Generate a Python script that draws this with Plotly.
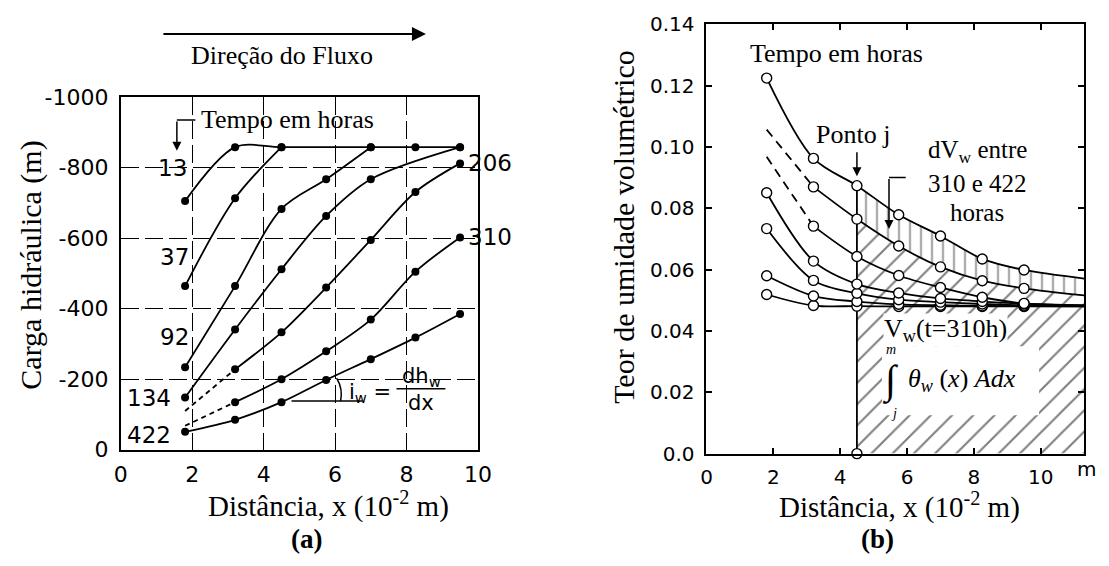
import plotly.graph_objects as go

SERIF = "Liberation Serif, Times New Roman, serif"
SANS = "DejaVu Sans, Arial, sans-serif"

# Measuring points along the sample (10^-2 m)
x_pts = [1.8, 3.2, 4.5, 5.75, 7.0, 8.25, 9.5]
times = ["13", "37", "92", "134", "206", "310", "422"]
# curves whose first value is a dashed (extrapolated) start, without a reading
dashed_start = ["206", "310"]

# (a) Hydraulic head (m); None = no reading at that point
head_13 = [-705, -858, -858, None, -858, -858, -858]
head_37 = [-464, -713, -858, None, None, None, None]
head_92 = [-234, -464, -683, -767, -858, None, None]
head_134 = [-148, -341, -512, -663, -767, None, -858]
head_206 = [-110, -228, -333, -460, -595, -731, -812]
head_310 = [-68, -135, -200, -279, -369, -505, -602]
head_422 = [-51, -85, -135, -198, -257, -318, -385]

# (b) Volumetric water content at the same points, plus the value at the sample end
x_end = 11.3
theta_13 = [0.0519, 0.0483, 0.0481, 0.0480, 0.0480, 0.0480, 0.0480]
theta_37 = [0.0580, 0.0514, 0.0496, 0.0487, 0.0484, 0.0482, 0.0481]
theta_92 = [0.0734, 0.0565, 0.0523, 0.0502, 0.0494, 0.0488, 0.0484]
theta_134 = [0.0851, 0.0628, 0.0553, 0.0524, 0.0506, 0.0496, 0.0489]
theta_206 = [0.0968, 0.0742, 0.0643, 0.0581, 0.0542, 0.0510, 0.0490]
theta_310 = [0.1057, 0.0870, 0.0765, 0.0677, 0.0609, 0.0564, 0.0539]
theta_422 = [0.1225, 0.0963, 0.0874, 0.0779, 0.0710, 0.0635, 0.0599]
theta_end = {"13": 0.0480, "37": 0.0480, "92": 0.0481, "134": 0.0483,
             "206": 0.0484, "310": 0.0516, "422": 0.0571}
j_index = 2  # "Ponto j" is the third measuring point

# Axis ticks
a_xticks = [0, 2, 4, 6, 8, 10]
a_yticks = [0, -200, -400, -600, -800, -1000]
a_yticktext = ["0", "-200", "-400", "-600", "-800", "-1000"]
b_xticks = [0, 2, 4, 6, 8, 10]
b_yticks = [0, 0.02, 0.04, 0.06, 0.08, 0.10, 0.12, 0.14]
b_yticktext = ["0.0", "0.02", "0.04", "0.06", "0.08", "0.10", "0.12", "0.14"]

head = dict(zip(times, [head_13, head_37, head_92, head_134, head_206, head_310, head_422]))
theta = dict(zip(times, [theta_13, theta_37, theta_92, theta_134, theta_206, theta_310, theta_422]))

fig = go.Figure()
LW = 1.8

# ---------- (a) hydraulic head profiles ----------
for t in times:
    ys = head[t]
    start = 1 if t in dashed_start else 0
    fig.add_trace(go.Scatter(x=x_pts[start:], y=ys[start:], mode="lines",
                             line=dict(color="black", width=LW, shape="spline", smoothing=0.9),
                             connectgaps=True, xaxis="x", yaxis="y", hoverinfo="skip"))
    if start:
        fig.add_trace(go.Scatter(x=x_pts[:2], y=ys[:2], mode="lines",
                                 line=dict(color="black", width=LW, dash="5px,4px"),
                                 xaxis="x", yaxis="y", hoverinfo="skip"))
    fig.add_trace(go.Scatter(x=x_pts[start:], y=ys[start:], mode="markers",
                             marker=dict(color="black", size=8),
                             xaxis="x", yaxis="y"))

# ---------- (b) water content profiles ----------
j_x = x_pts[j_index]
hx = x_pts[j_index:] + [x_end]
# water stored beyond point j at t = 310 h
fig.add_trace(go.Scatter(x=hx, y=theta["310"][j_index:] + [theta_end["310"]], mode="lines",
                         line=dict(color="rgba(0,0,0,0)", width=0, shape="spline"),
                         fill="tozeroy", fillcolor="rgba(0,0,0,0)",
                         fillpattern=dict(shape="/", size=15, solidity=0.14,
                                          fgcolor="black", bgcolor="rgba(0,0,0,0)"),
                         xaxis="x2", yaxis="y2", hoverinfo="skip"))
# change in storage between 310 and 422 h
fig.add_trace(go.Scatter(x=hx, y=theta["422"][j_index:] + [theta_end["422"]], mode="lines",
                         line=dict(color="rgba(0,0,0,0)", width=0, shape="spline"),
                         fill="tonexty", fillcolor="rgba(0,0,0,0)",
                         fillpattern=dict(shape="|", size=11, solidity=0.14,
                                          fgcolor="black", bgcolor="rgba(0,0,0,0)"),
                         xaxis="x2", yaxis="y2", hoverinfo="skip"))
# vertical line through point j
fig.add_trace(go.Scatter(x=[j_x, j_x], y=[0, theta["422"][j_index]], mode="lines",
                         line=dict(color="black", width=LW), xaxis="x2", yaxis="y2",
                         hoverinfo="skip"))
for t in times:
    ys = theta[t]
    start = 1 if t in dashed_start else 0
    fig.add_trace(go.Scatter(x=x_pts[start:] + [x_end], y=ys[start:] + [theta_end[t]],
                             mode="lines",
                             line=dict(color="black", width=LW, shape="spline", smoothing=0.9),
                             xaxis="x2", yaxis="y2", hoverinfo="skip"))
    if start:
        fig.add_trace(go.Scatter(x=x_pts[:2], y=ys[:2], mode="lines",
                                 line=dict(color="black", width=LW, dash="9px,6px"),
                                 xaxis="x2", yaxis="y2", hoverinfo="skip"))
for t in times:
    ys = theta[t]
    start = 1 if t in dashed_start else 0
    fig.add_trace(go.Scatter(x=x_pts[start:], y=ys[start:], mode="markers",
                             marker=dict(color="white", size=10,
                                         line=dict(color="black", width=1.4)),
                             xaxis="x2", yaxis="y2"))
fig.add_trace(go.Scatter(x=[j_x], y=[0], mode="markers",
                         marker=dict(color="white", size=10, line=dict(color="black", width=1.4)),
                         xaxis="x2", yaxis="y2", cliponaxis=False))

# ---------- annotations ----------
ann = []
shapes = []


def text(x, y, s, size=26, family=SERIF, ref="", **kw):
    d = dict(x=x, y=y, text=s, showarrow=False, xanchor="center", yanchor="middle",
             font=dict(family=family, size=size, color="black"))
    if ref == "paper":
        d.update(xref="paper", yref="paper")
    else:
        d.update(xref="x" + ref, yref="y" + ref)
    d.update(kw)
    ann.append(d)


def arrow(x, y, ax, ay, ref=""):
    ann.append(dict(x=x, y=y, ax=ax, ay=ay, xref="x" + ref, yref="y" + ref,
                    axref="x" + ref, ayref="y" + ref, text="", showarrow=True,
                    arrowhead=2, arrowsize=1.2, arrowwidth=1.5, arrowcolor="black"))


# (a) curve labels
a_label_shift = {"13": (4, 33), "37": (6, 29), "92": (6, 30), "134": (-12, 0), "422": (-12, -3)}
for t, (dx, dy) in a_label_shift.items():
    text(x_pts[0], head[t][0], t, size=23, family=SANS, xanchor="right",
         xshift=dx, yshift=dy)
for t in ["206", "310"]:
    text(x_pts[-1], head[t][-1], t, size=23, family=SANS, xanchor="left", xshift=6)

text(4.67, -935, "Tempo em horas", size=26)
shapes.append(dict(type="line", xref="x", yref="y", x0=1.57, x1=2.09, y0=-935, y1=-935,
                   line=dict(color="black", width=1.5)))
arrow(1.57, -848, 1.57, -935)

# slope i_w = dh_w/dx
shapes.append(dict(type="line", xref="x", yref="y", x0=4.78, x1=6.76, y0=-138, y1=-138,
                   line=dict(color="black", width=1.5)))
shapes.append(dict(type="path", xref="x", yref="y",
                   path="M 6.154,-138 Q 6.23,-171 6.044,-203",
                   line=dict(color="black", width=1.5)))
text(6.98, -160, "i<sub>w</sub> =", size=21, family=SANS)
text(8.41, -205, "dh<sub>w</sub>", size=21, family=SANS)
shapes.append(dict(type="line", xref="x", yref="y", x0=7.72, x1=9.09, y0=-173, y1=-173,
                   line=dict(color="black", width=1.5)))
text(8.41, -133, "dx", size=21, family=SANS)

# (b) curve labels
for t in times:
    text(x_pts[0], theta[t][0], t, size=22, family=SANS, xanchor="right", xshift=-5)

text(3.90, 0.1306, "Tempo em horas", size=26, ref="2")
text(4.37, 0.1041, "Ponto j", size=26, ref="2")
arrow(j_x, 0.0905, j_x, 0.0988, ref="2")
text(8.10, 0.0985, "dV<sub>w</sub> entre", size=25, ref="2")
text(8.10, 0.0880, "310 e 422", size=25, ref="2")
text(8.10, 0.0788, "horas", size=25, ref="2")
shapes.append(dict(type="line", xref="x2", yref="y2", x0=5.46, x1=5.96, y0=0.0901, y1=0.0901,
                   line=dict(color="black", width=1.5)))
arrow(5.46, 0.0733, 5.46, 0.0901, ref="2")
text(5.28, 0.0402, "V<sub>w</sub>(t=310h)", size=26, ref="2", xanchor="left",
     bgcolor="white", borderpad=0)
shapes.append(dict(type="rect", xref="x2", yref="y2", x0=5.25, x1=9.95, y0=0.0125, y1=0.0350,
                   fillcolor="white", line=dict(width=0), layer="above"))
text(5.49, 0.0238, "∫", size=40, ref="2")
text(5.52, 0.0340, "<i>m</i>", size=14, ref="2")
text(5.60, 0.0130, "<i>j</i>", size=14, ref="2")
text(5.96, 0.0240, "<i>θ</i><sub><i>w</i></sub> (<i>x</i>) <i>Adx</i>", size=26, ref="2",
     xanchor="left")

# titles and panel labels
text(0.0225, 0.532, "Carga hidráulica (m)", size=30, ref="paper", textangle=-90)
text(0.2958, 0.090, "Distância, x (10<sup>-2</sup> m)", size=29, ref="paper")
text(0.275, 0.025, "<b>(a)</b>", size=27, ref="paper")
text(0.566, 0.6025, "Teor de umidade volumétrico", size=30, ref="paper", textangle=-90)
text(0.8206, 0.088, "Distância, x (10<sup>-2</sup> m)", size=29, ref="paper")
text(0.80, 0.025, "<b>(b)</b>", size=27, ref="paper")
text(0.9919, 0.1555, "m", size=20, family=SANS, ref="paper")

# flow direction
text(0.2525, 0.9205, "Direção do Fluxo", size=26, ref="paper")
ann.append(dict(x=427 / 1109, y=1 - 23 / 566, xref="paper", yref="paper", ax=-264, ay=0,
                xanchor="center", yanchor="middle",
                text="", showarrow=True, arrowhead=2, arrowsize=1.4, arrowwidth=2,
                arrowcolor="black"))

grid = dict(showgrid=True, gridcolor="black", gridwidth=1.2, griddash="18px,6px")
frame = dict(showline=True, linecolor="black", linewidth=2, mirror=True, zeroline=False)
tickf = dict(family=SANS, size=22, color="black")

fig.update_layout(
    width=1109, height=566, margin=dict(l=0, r=0, t=0, b=0),
    paper_bgcolor="white", plot_bgcolor="white", showlegend=False,
    xaxis=dict(domain=[116 / 1109, 480 / 1109], range=[0, 10], tickvals=a_xticks,
               ticks="", tickfont=tickf, ticklabelstandoff=4, anchor="y", **grid, **frame),
    yaxis=dict(domain=[1 - 458 / 566, 1 - 89 / 566], range=[0, -1000], tickvals=a_yticks,
               ticktext=a_yticktext, ticks="", tickfont=tickf, ticklabelstandoff=6,
               anchor="x", **grid, **frame),
    xaxis2=dict(domain=[713 / 1109, 1098 / 1109], range=[0, x_end], tickvals=b_xticks,
                ticks="inside", ticklen=6, tickwidth=1.5, tickcolor="black",
                tickfont=dict(family=SANS, size=20, color="black"), showgrid=False,
                showline=True, linecolor="black", linewidth=2, mirror="ticks",
                zeroline=False, anchor="y2", ticklabelstandoff=4),
    yaxis2=dict(domain=[1 - 462 / 566, 1 - 13 / 566], range=[0, 0.14], tickvals=b_yticks,
                ticktext=b_yticktext, ticks="inside", ticklen=6, tickwidth=1.5,
                tickcolor="black", tickfont=dict(family=SANS, size=20, color="black"),
                showgrid=False, showline=True, linecolor="black", linewidth=2,
                mirror="ticks", zeroline=False, anchor="x2", ticklabelstandoff=6),
    annotations=ann, shapes=shapes,
)

fig.write_html("out.html")
